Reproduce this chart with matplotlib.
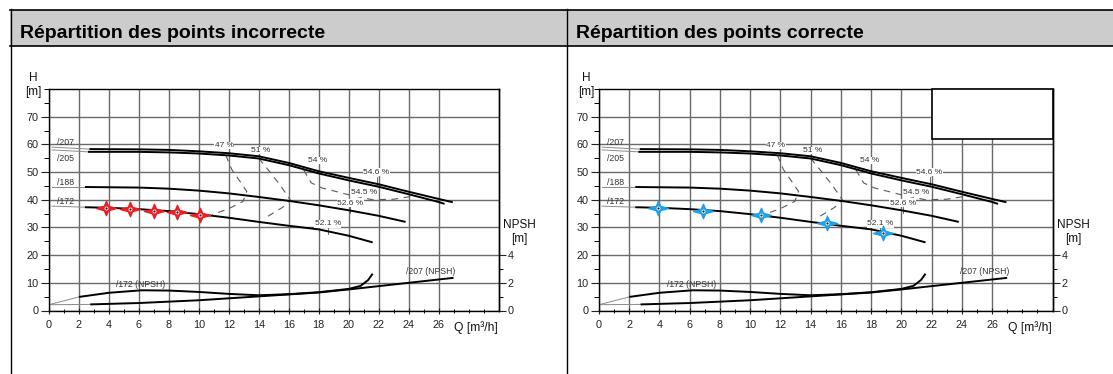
import numpy as np
import matplotlib
matplotlib.use('Agg')
import matplotlib.pyplot as plt
from matplotlib.path import Path
from matplotlib.patches import Rectangle
from matplotlib.ticker import MultipleLocator

plt.rcParams['font.family'] = ['Liberation Sans', 'DejaVu Sans']

W, HH = 1113, 374

titles = ["Répartition des points incorrecte", "Répartition des points correcte"]

# Pump H-Q curves
q207 = [2.7, 6, 8, 10, 12, 14, 16, 18, 20, 22, 24, 26, 26.95]
h207 = [58.3, 58.2, 58.0, 57.5, 56.8, 55.7, 53.3, 50.3, 47.9, 45.6, 42.9, 40.3, 39.1]
q205 = [2.6, 6, 8, 10, 12, 14, 16, 18, 20, 22, 24, 26, 26.4]
h205 = [57.3, 57.3, 57.1, 56.7, 56.0, 54.9, 52.5, 49.5, 47.0, 44.7, 42.0, 39.2, 38.5]
q188 = [2.4, 6, 8, 10, 12, 14, 16, 18, 20, 22, 23.8]
h188 = [44.6, 44.4, 44.0, 43.3, 42.3, 41.0, 39.6, 38.0, 36.2, 34.2, 32.0]
q172 = [2.4, 4, 6, 8, 10, 12, 14, 16, 18, 20, 21.6]
h172 = [37.3, 37.1, 36.6, 35.9, 34.8, 33.5, 32.0, 30.6, 29.3, 27.0, 24.6]

# Iso-efficiency (dashed)
e47_q = [11.8, 12.2, 12.7, 13.2, 12.95, 12.0, 10.9]
e47_h = [56.1, 50.9, 47.0, 43.0, 39.4, 36.8, 34.6]
e51_q = [14.0, 14.6, 15.4, 16.1, 15.6, 14.3]
e51_h = [55.0, 51.0, 45.5, 40.0, 37.3, 33.0]
e54_q = [17.0, 17.5, 18.2, 20.0, 21.6, 23.0, 24.3]
e54_h = [50.8, 46.1, 44.3, 41.8, 40.0, 40.2, 41.3]

eff_labels = ["47 %", "51 %", "54 %", "54.6 %", "54.5 %", "52.6 %", "52.1 %"]
eff_q = [11.7, 14.1, 17.9, 21.85, 21.0, 20.1, 18.6]
eff_h = [59.6, 57.8, 54.2, 49.9, 42.5, 38.8, 31.3]

curve_labels = ["/207", "/205", "/188", "/172"]
curve_lab_h = [60.6, 55.0, 46.4, 39.2]

# NPSH curves (expressed on H scale: NPSH*5)
n172_q = [2, 4, 6.2, 8, 10, 12, 14, 16, 18, 20, 20.8, 21.3, 21.6]
n172_h = [4.9, 6.4, 7.3, 7.2, 6.7, 6.0, 5.5, 5.9, 6.6, 7.8, 8.9, 11.0, 13.3]
n207_q = [2.75, 6, 10, 14, 18, 20, 22, 24, 27]
n207_h = [2.2, 2.7, 3.7, 5.1, 6.5, 7.6, 8.8, 10.0, 11.8]

# Operating points
red_q = [3.8, 5.4, 7.0, 8.55, 10.1]
red_h = [37.2, 36.7, 36.0, 35.4, 34.6]
blue_q = [3.9, 6.9, 10.7, 15.1, 18.8]
blue_h = [37.0, 35.8, 34.6, 31.6, 28.0]

xticks = list(range(0, 28, 2))
yticks = list(range(0, 80, 10))
npsh_ticks = [0, 2, 4]

star = Path([(1.4, 0), (0.3, 0.3), (0, 1), (-0.3, 0.3), (-1.4, 0),
             (-0.3, -0.3), (0, -1), (0.3, -0.3), (1.4, 0)],
            [Path.MOVETO] + [Path.LINETO] * 7 + [Path.CLOSEPOLY])

fig = plt.figure(figsize=(W / 100, HH / 100), dpi=100)
bg = fig.add_axes([0, 0, 1, 1])
bg.set_xlim(0, W)
bg.set_ylim(HH, 0)
bg.axis('off')
bg.add_patch(Rectangle((10, 9.5), W - 10, 36, fc='#cccccc', ec='none'))
for y in (9.5, 45.5):
    bg.plot([10, W], [y, y], color='black', lw=1.2)
for x in (10.5, 567):
    bg.plot([x, x], [9, HH], color='black', lw=1.0)
bg.text(20, 37.5, titles[0], fontsize=14, fontweight='bold', va='baseline', ha='left')
bg.text(576, 37.5, titles[1], fontsize=14, fontweight='bold', va='baseline', ha='left')

tc = '#222222'


def panel(x0, x1, mq, mh, mcolor, box, hoff):
    ax = fig.add_axes([x0 / W, (HH - 310.5) / HH, (x1 - x0) / W, 221.5 / HH])
    ax.set_xlim(0, 30)
    ax.set_ylim(0, 80)
    ax.set_xticks(xticks)
    ax.set_xticks(np.arange(0, 30, 1), minor=True)
    ax.set_yticks(yticks)
    ax.yaxis.set_minor_locator(MultipleLocator(5))
    ax.grid(True, which='major', color='#6a6a6a', lw=1.0)
    ax.set_axisbelow(True)
    ax.tick_params(axis='y', which='major', direction='out', length=6, width=0.8, pad=1.5,
                   labelsize=7.8, colors=tc)
    ax.tick_params(axis='y', which='minor', direction='out', length=3.5, width=0.7)
    ax.tick_params(axis='x', which='major', direction='inout', length=5, width=0.8, pad=4,
                   labelsize=7.8, colors=tc)
    ax.tick_params(axis='x', which='minor', direction='inout', length=3.5, width=0.7)
    for s in ax.spines.values():
        s.set_color('black')
        s.set_linewidth(1.0)

    # thin leaders
    lead_kw = dict(color='#8a8a8a', lw=0.7, zorder=1.5)
    ax.plot([0.2, q207[0]], [59.0, h207[0]], **lead_kw)
    ax.plot([0.2, q205[0]], [58.0, h205[0]], **lead_kw)
    ax.plot([0.2, q188[0]], [44.6, h188[0]], **lead_kw)
    ax.plot([0.2, q172[0]], [37.7, h172[0]], **lead_kw)
    for lab, yh in zip(curve_labels, curve_lab_h):
        ax.text(0.55, yh, lab, fontsize=6.3, color='#333', va='center', ha='left', zorder=4)

    ck = dict(color='black', lw=1.4, zorder=2, solid_capstyle='butt')
    ax.plot(q207, h207, **ck)
    ax.plot(q205, h205, **ck)
    ax.plot(q188, h188, **ck)
    ax.plot(q172, h172, **ck)

    dk = dict(color='#5a5a5a', lw=0.8, ls=(0, (6, 5)), zorder=1.8)
    ax.plot(e47_q, e47_h, **dk)
    ax.plot(e51_q, e51_h, **dk)
    ax.plot(e54_q, e54_h, **dk)

    for lab, q, h in zip(eff_labels, eff_q, eff_h):
        ax.text(q, h, lab, fontsize=6.0, color='#333', ha='center', va='center', zorder=4,
                bbox=dict(fc='white', ec='none', pad=0.3))
    # small marks under some efficiency labels
    tk = dict(color='#555', lw=0.6, zorder=1.9)
    ax.plot([21.9, 21.9], [48.3, 44.8], **tk)
    ax.plot([20.1, 20.1], [37.3, 35.2], **tk)
    ax.plot([18.6, 18.6], [29.8, 27.8], **tk)

    # NPSH curves
    ax.plot([0, n172_q[0]], [2.1, n172_h[0]], color='#8a8a8a', lw=0.7, zorder=1.5)
    ax.plot([0, n207_q[0]], [2.1, n207_h[0]], color='#8a8a8a', lw=0.7, zorder=1.5)
    ax.plot(n172_q, n172_h, **ck)
    ax.plot(n207_q, n207_h, **ck)
    ax.text(6.1, 9.5, "/172 (NPSH)", fontsize=6.2, color='#333', ha='center', va='center', zorder=4)
    ax.text(25.5, 14.0, "/207 (NPSH)", fontsize=6.2, color='#333', ha='center', va='center', zorder=4)

    # operating points
    ax.plot(mq, mh, ls='none', marker=star, ms=14.5, mfc=mcolor, mec=mcolor, mew=1.0, zorder=5)
    ax.plot(mq, mh, ls='none', marker='o', ms=2.8, mfc='white', mec='none', zorder=6)
    ax.plot(mq, mh, ls='none', marker='o', ms=1.6, mfc='#222', mec='none', zorder=7)

    if box:
        ax.add_patch(Rectangle((22, 62), 8, 18, fc='white', ec='black', lw=1.2, zorder=3,
                               clip_on=False))

    ax2 = ax.twinx()
    ax2.set_ylim(0, 16)
    ax2.set_yticks(npsh_ticks)
    ax2.set_yticks([1, 3], minor=True)
    ax2.tick_params(axis='y', which='major', direction='out', length=5, width=0.8, pad=1.5,
                    labelsize=7.8, colors=tc)
    ax2.tick_params(axis='y', which='minor', direction='out', length=3, width=0.7)
    for s in ax2.spines.values():
        s.set_visible(False)
    ax2.spines['right'].set_visible(True)
    ax2.spines['right'].set_linewidth(1.0)

    # axis titles (pixel coords)
    bg.text(x0 + hoff, 78, "H", fontsize=8.5, ha='center', va='center', color='#111')
    bg.text(x0 + hoff, 92, "[m]", fontsize=8.5, ha='center', va='center', color='#111')
    bg.text(x1 + 20.5, 225, "NPSH", fontsize=8.5, ha='center', va='center', color='#111')
    bg.text(x1 + 20.5, 238.5, "[m]", fontsize=8.5, ha='center', va='center', color='#111')
    bg.text(x1 - 1, 327.5, "Q [m³/h]", fontsize=8.7, ha='right', va='center', color='#111')
    return ax


panel(49, 498.5, red_q, red_h, '#ee1c24', False, -16)
panel(599, 1052.5, blue_q, blue_h, '#1ea0e6', True, -12.5)

fig.savefig('out.png', dpi=100)
